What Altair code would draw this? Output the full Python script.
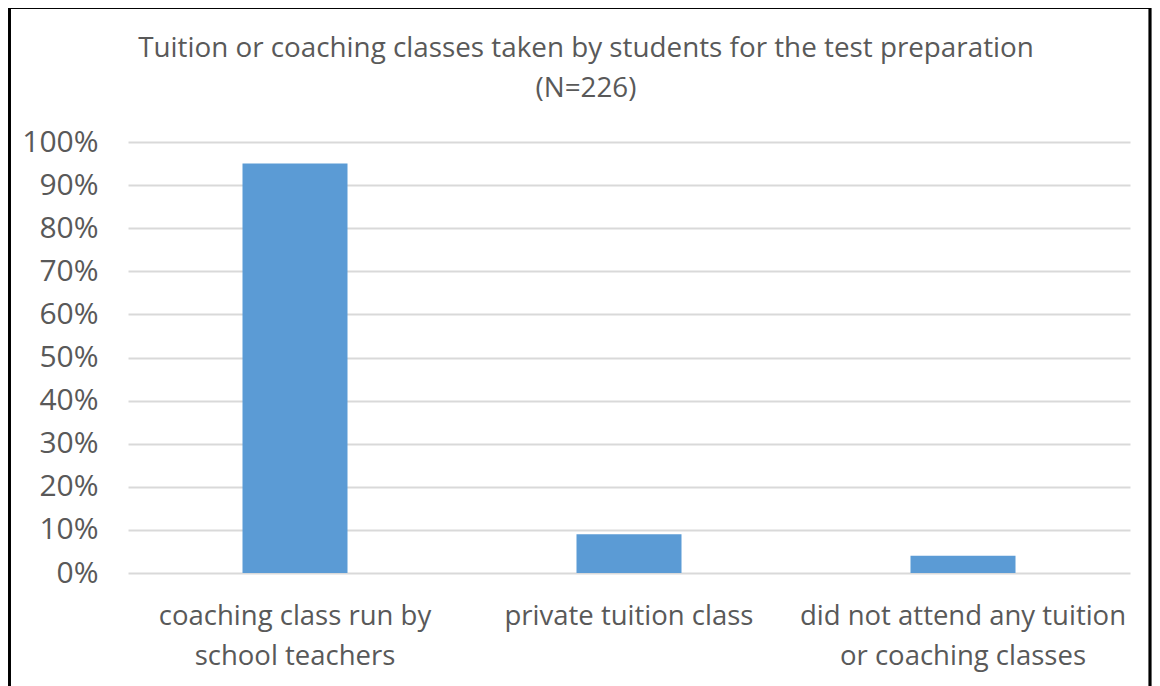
import altair as alt
import pandas as pd

categories = [
    "coaching class run by school teachers",
    "private tuition class",
    "did not attend any tuition or coaching classes",
]
label_lines = [
    ["coaching class run by", "school teachers"],
    ["private tuition class"],
    ["did not attend any tuition", "or coaching classes"],
]
values = [0.95, 0.09, 0.04]
y_ticks = [0, 0.1, 0.2, 0.3, 0.4, 0.5, 0.6, 0.7, 0.8, 0.9, 1.0]
title_lines = ["Tuition or coaching classes taken by students for the test preparation", "(N=226)"]

df = pd.DataFrame({"category": categories, "value": values})

# label expression mapping category -> list of lines
expr = "''"
for cat, lines in reversed(list(zip(categories, label_lines))):
    arr = "[" + ",".join("'" + l + "'" for l in lines) + "]"
    expr = f"datum.value === '{cat}' ? {arr} : ({expr})"

FONT = "Open Sans"
GRAY = "#595959"

bars = alt.Chart(df).mark_bar(size=105, color="#5b9bd5").encode(
    x=alt.X(
        "category:N",
        sort=categories,
        scale=alt.Scale(paddingInner=0, paddingOuter=0),
        axis=alt.Axis(
            title=None,
            labelAngle=0,
            labelExpr=expr,
            labelFont=FONT,
            labelFontSize=27.5,
            labelColor=GRAY,
            labelLineHeight=40,
            labelPadding=29,
            labelBaseline="top",
            labelLimit=600,
            ticks=False,
            domain=False,
            grid=False,
        ),
    ),
    y=alt.Y(
        "value:Q",
        scale=alt.Scale(domain=[0, 1], nice=False),
        axis=alt.Axis(
            title=None,
            values=y_ticks,
            format=".0%",
            labelFont=FONT,
            labelFontSize=30,
            labelColor=GRAY,
            labelPadding=30,
            ticks=False,
            domain=False,
            grid=True,
            gridColor="#d9d9d9",
            gridWidth=2,
        ),
    ),
)

frame = alt.Chart(df).mark_rect(
    fill=None, stroke="black", strokeWidth=2.5, clip=False
).encode(
    x=alt.value(-118.5),
    x2=alt.value(1022),
    y=alt.value(-134.5),
    y2=alt.value(560),
)

chart = alt.layer(bars, frame).properties(
    width=1002,
    height=431,
    padding={"left": 120, "right": 22, "top": 134, "bottom": 113},
    autosize=alt.AutoSizeParams(type="none"),
    title=alt.TitleParams(
        text=title_lines,
        font=FONT,
        fontSize=27.8,
        fontWeight="normal",
        color=GRAY,
        lineHeight=40,
        anchor="middle",
        dx=-43,
        offset=-97,
    ),
).configure(background="white").configure_view(stroke=None)

chart.save("out.html", embed_options={"renderer": "svg", "actions": False})
